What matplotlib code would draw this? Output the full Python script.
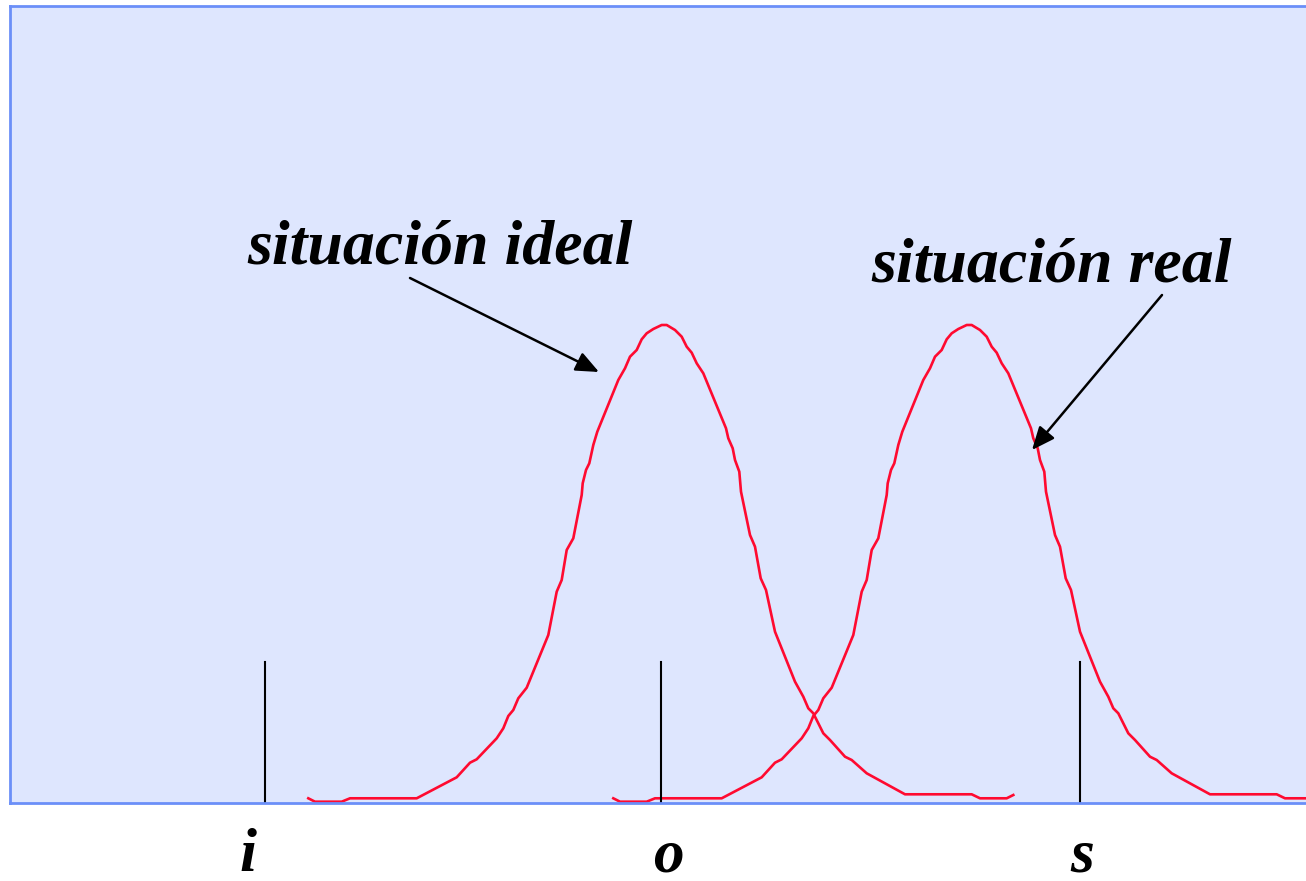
import matplotlib
matplotlib.use("Agg")
import matplotlib.pyplot as plt
import numpy as np

# perfil de la campana: desplazamiento respecto al centro y altura sobre la base
perfil_dx = [-354.7, -348, -321.3, -313, -246.3, -206.3, -193, -186.3, -166.3,
             -159.7, -154.7, -149.7, -144.7, -136.3, -114.7, -106.3, -101.3,
             -96.3, -89.7, -81.3, -80.3, -77, -73.7, -69.7, -65.7, -44.7, -38,
             -33, -26.3, -21.3, -16.3, -9.7, -1.3, 3.7, 12, 18.7, 23.7, 28.7,
             33.7, 40.3, 63, 65.3, 69.7, 72, 76.3, 78, 87, 92, 97.7, 103, 112,
             132, 140.3, 145.3, 150.3, 160.3, 167, 182, 188.7, 203.7, 242,
             308.7, 317, 343.7, 350.3]
perfil_h = [4.7, 1.3, 1.3, 4.7, 4.7, 25.7, 40.3, 43.7, 64.7, 74.7, 87, 93,
            104.7, 115.3, 168, 211.3, 223, 253, 264.7, 308, 319.7, 333, 339.7,
            358, 371.3, 423, 434.7, 446.3, 453, 463.7, 469.7, 474, 478, 478,
            473, 466.3, 456.3, 450.3, 439.7, 429.7, 374.7, 364.7, 354.7, 343,
            331.3, 311.3, 268, 256.3, 224.7, 213, 171.3, 121.3, 106.3, 94.7,
            89.7, 69.7, 63, 46.3, 43, 29.7, 8.7, 8.7, 4.7, 4.7, 8]

centro_ideal = 663
centro_real = 968

# limites inferior, objetivo y superior
marcas = ["i", "o", "s"]
marcas_x = [265, 661, 1080]
marcas_texto_x = [248, 668, 1082]
alto_marca = 141

rojo = "#ff0a30"
fuente = dict(family="Liberation Serif", weight="bold", style="italic")

fig = plt.figure(figsize=(13.06, 8.81), dpi=100)
ax = fig.add_axes([10 / 1306, 78 / 881, 1300 / 1306, 797 / 881])
ax.set_xlim(10, 1310)
ax.set_ylim(0, 797)
ax.set_facecolor("#dee6fe")
for lado in ["top", "bottom", "left", "right"]:
    ax.spines[lado].set_color("#6b8ff8")
    ax.spines[lado].set_linewidth(2)
ax.set_xticks([])
ax.set_yticks([])

dx = np.array(perfil_dx)
h = np.array(perfil_h)
ax.plot(centro_ideal + dx, h, color=rojo, lw=1.9)
ax.plot(centro_real + dx, h, color=rojo, lw=1.9)

for x in marcas_x:
    ax.plot([x, x], [0, alto_marca], color="black", lw=1.5)
for txt, x in zip(marcas, marcas_texto_x):
    ax.text(x, -68, txt, ha="center", va="baseline", fontsize=44,
            clip_on=False, **fuente)

flecha = dict(arrowstyle="-|>,head_length=0.7,head_width=0.3",
              mutation_scale=20, color="black", lw=1.8,
              shrinkA=0, shrinkB=0)
ax.text(247, 803 - 263, "situación ideal", ha="left", va="baseline",
        fontsize=46, **fuente)
ax.annotate("", xy=(599, 803 - 372), xytext=(410, 803 - 278),
            arrowprops=flecha)
ax.text(871, 803 - 281, "situación real", ha="left", va="baseline",
        fontsize=46, **fuente)
ax.annotate("", xy=(1032, 803 - 450), xytext=(1162, 803 - 295),
            arrowprops=flecha)

fig.savefig("out.png", dpi=100)
